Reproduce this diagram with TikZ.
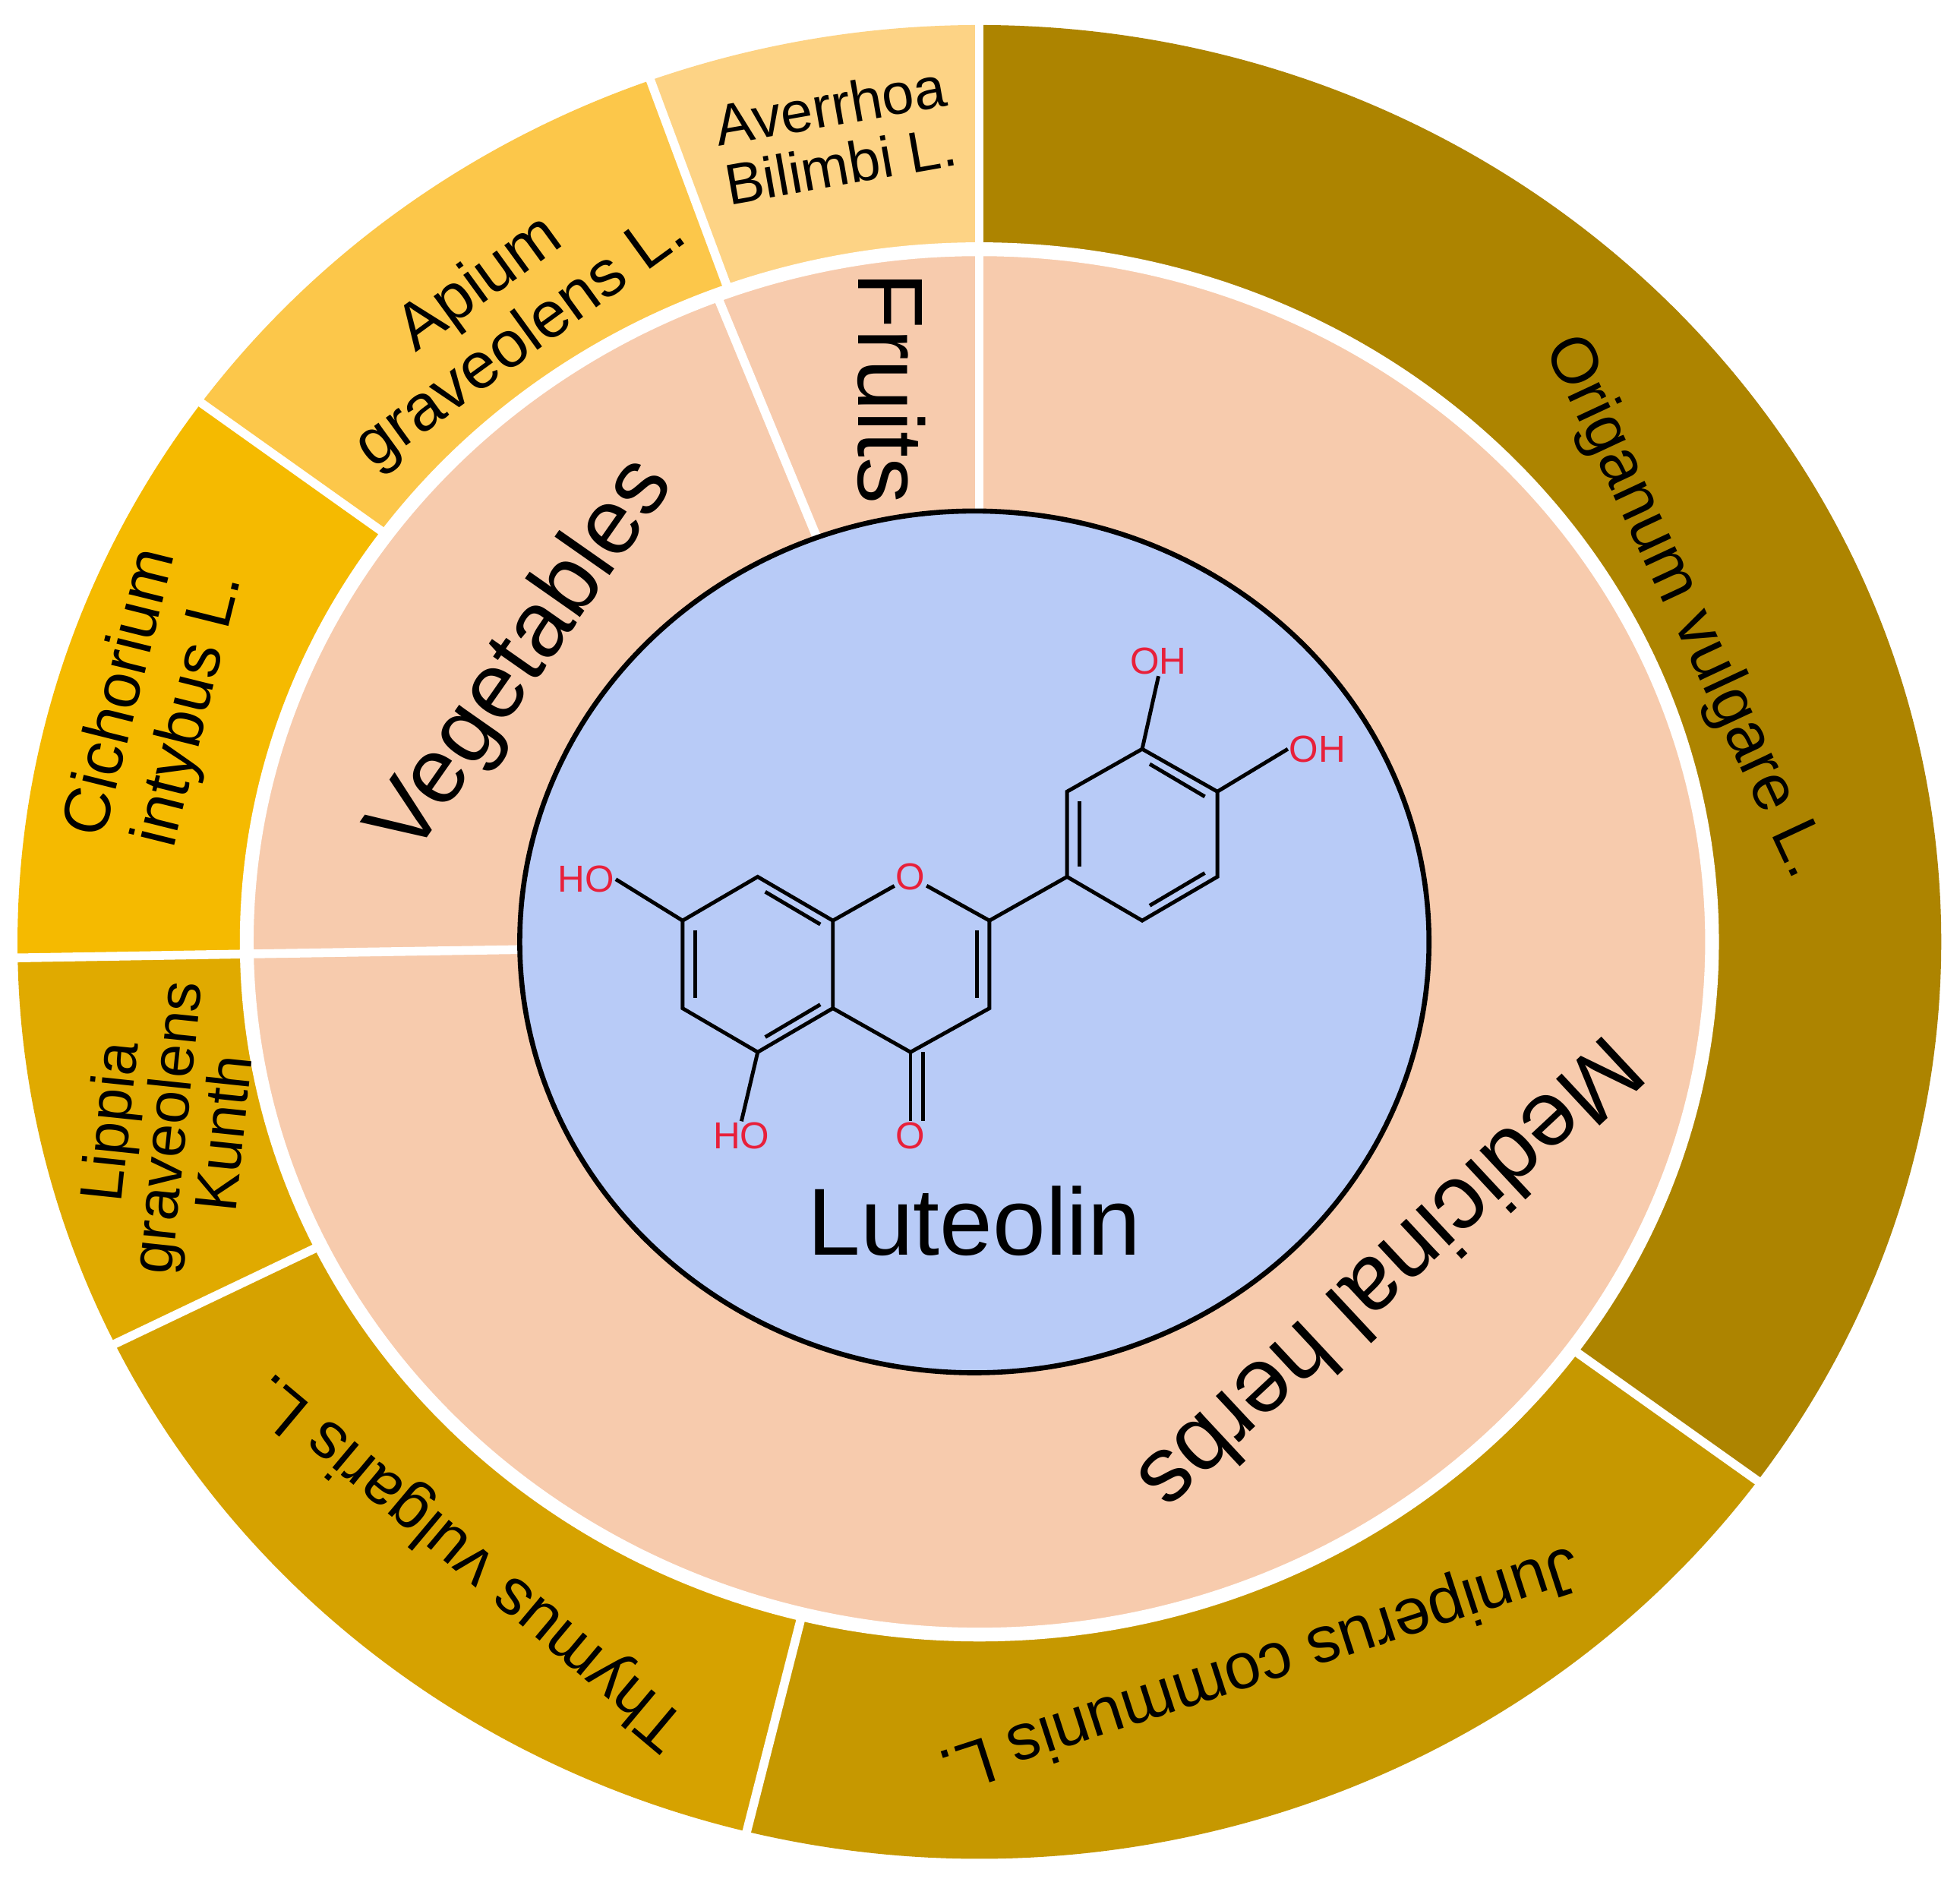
\documentclass[tikz,border=0pt]{standalone}
\usepackage{fontspec}
\setmainfont{Liberation Sans}
\definecolor{cOri}{HTML}{AD8400}
\definecolor{cJun}{HTML}{C69800}
\definecolor{cThy}{HTML}{D6A200}
\definecolor{cLip}{HTML}{E0AA00}
\definecolor{cCic}{HTML}{F5BA00}
\definecolor{cApi}{HTML}{FCC74A}
\definecolor{cAve}{HTML}{FDD385}
\definecolor{cMid}{HTML}{F7CBAD}
\definecolor{cCen}{HTML}{B8CBF7}
\definecolor{cRed}{HTML}{E8203A}
\newcommand\mysect[3]{\fill[#1,shift={(782,750)}] (#2:768 and 732) arc[start angle=#2,end angle=#3,x radius=768,y radius=732] -- (#3:580 and 548) arc[start angle=#3,end angle=#2,x radius=580,y radius=548] -- cycle;}
\newcommand\myline[3]{\draw[white,line width=7,shift={(782,750)}] (#1:#2) -- (#1:#3);}
\begin{document}
\begin{tikzpicture}[x=1pt,y=1pt,
  lab/.style={font=\fontsize{52}{56}\selectfont,align=center},
  mid/.style={font=\fontsize{74}{80}\selectfont},
  chem/.style={font=\fontsize{30}{32}\selectfont,text=cRed,inner sep=1pt},
  bond/.style={line width=3,black}]
\useasboundingbox (0,0) rectangle (1565,1502);
\fill[white] (0,0) rectangle (1565,1502);
% outer ring
\mysect{cOri}{90}{-36}
\mysect{cJun}{-36}{-104}
\mysect{cThy}{-104}{-154}
\mysect{cLip}{-154}{-179}
\mysect{cCic}{181}{144}
\mysect{cApi}{144}{110}
\mysect{cAve}{110}{90}
% middle ring
\fill[cMid,shift={(782,750)}] (0,0) ellipse[x radius=580,y radius=548];
\draw[white,line width=11,shift={(782,750)}] (0,0) ellipse[x radius=585,y radius=553];
% outer lines
\myline{-36}{585 and 553}{770 and 734}
\myline{-104}{585 and 553}{770 and 734}
\myline{-154}{585 and 553}{770 and 734}
\myline{-179}{585 and 553}{770 and 734}
\myline{144}{585 and 553}{770 and 734}
\myline{110}{585 and 553}{770 and 734}
\myline{90}{360 and 344}{770 and 734}
% middle lines
\myline{-179}{360 and 344}{585 and 553}
\myline{111}{360 and 344}{585 and 553}
% center
\fill[cCen,draw=black,line width=4,shift={(778,750)}] (0,0) ellipse[x radius=363,y radius=344];
\begin{scope}[shift={(0,1502)},yscale=-1]
\node[lab,rotate=-65] (ori) at (1345,485) {Origanum vulgare L.};
\node[lab,rotate=198] (jun) at (1005,1330) {Juniperus communis L.};
\node[lab,rotate=140] (thy) at (375,1245) {Thymus vulgaris L.};
\node[lab,rotate=84,font=\fontsize{48}{40}\selectfont] (lip) at (132,900) {Lippia\\graveolens\\Kunth};
\node[lab,rotate=76] (cic) at (125,560) {Cichorium\\intybus L.};
\node[lab,rotate=36] (api) at (400,250) {Apium\\graveolens L.};
\node[lab,rotate=10,font=\fontsize{46}{48}\selectfont] (ave) at (667,108) {Averrhoa\\Bilimbi L.};
\node[mid,rotate=-90] (fru) at (712,310) {Fruits};
\node[mid,rotate=55] (veg) at (418,525) {Vegetables};
\node[mid,rotate=223] (med) at (1112,1020) {Medicinal herbs};
\node[font=\fontsize{76}{80}\selectfont] (lut) at (778,975) {Luteolin};
% molecule
\coordinate (a1) at (605,700); \coordinate (a2) at (665,735);
\coordinate (a3) at (665,805); \coordinate (a4) at (605,840);
\coordinate (a5) at (545,805); \coordinate (a6) at (545,735);
\node[chem,text=cRed] (o1) at (727,700) {O};
\coordinate (c2) at (790,735); \coordinate (c3) at (790,805); \coordinate (c4) at (727,840);
\coordinate (b1) at (852,700); \coordinate (b2) at (852,632); \coordinate (b3) at (912,598);
\coordinate (b4) at (972,632); \coordinate (b5) at (972,700); \coordinate (b6) at (912,735);
\node[chem] (oh7) at (468,702) {HO};
\node[chem] (oh5) at (592,907) {HO};
\node[chem] (o4) at (727,907) {O};
\node[chem] (oh3) at (925,528) {OH};
\node[chem] (oh4) at (1052,598) {OH};
\draw[bond] (a1)--(a2)--(a3)--(a4)--(a5)--(a6)--cycle;
\draw[bond] (a2)--(o1)--(c2)--(c3)--(c4)--(a3);
\draw[bond] (c2)--(b1);
\draw[bond] (b1)--(b2)--(b3)--(b4)--(b5)--(b6)--cycle;
\draw[bond] (a6)--(oh7.east);
\draw[bond] (a4)--(oh5.north);
\draw[bond] (b3)--(oh3.south);
\draw[bond] (b4)--(oh4.west);
\draw[bond] (c4)--(o4.north);
\draw[bond] ([xshift=10pt]c4)--([xshift=10pt]o4.north);
% inner double bonds
\draw[bond] (555,743)--(555,797);
\draw[bond] (611,712)--(655,738);
\draw[bond] (611,828)--(655,802);
\draw[bond] (780,743)--(780,797);
\draw[bond] (862,640)--(862,692);
\draw[bond] (918,610)--(962,636);
\draw[bond] (918,723)--(962,697);
\end{scope}
\end{tikzpicture}
\end{document}
